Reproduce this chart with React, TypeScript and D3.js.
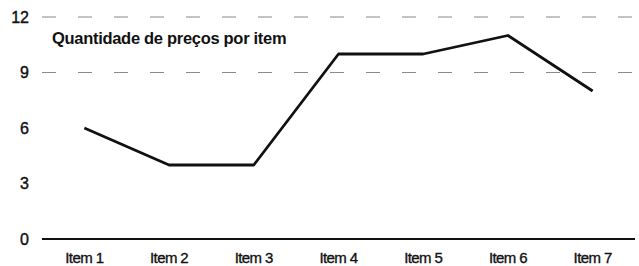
import React from "react";
import * as d3 from "d3";

const categories = ["Item 1", "Item 2", "Item 3", "Item 4", "Item 5", "Item 6", "Item 7"];
const values = [6, 4, 4, 10, 10, 11, 8];
const yTicks = [0, 3, 6, 9, 12];
const gridTicks = [9, 12];
const title = "Quantidade de preços por item";

const W = 639;
const H = 266;

export default function App() {
  const x = d3.scalePoint<string>().domain(categories).range([42, 635]).padding(0.5);
  const y = d3.scaleLinear().domain([0, 12]).range([239, 17]);

  const line = d3
    .line<number>()
    .x((d, i) => x(categories[i]) as number)
    .y((d) => y(d));

  return (
    <svg
      width={W}
      height={H}
      style={{ position: "absolute", left: 0, top: 0, background: "#fff", fontFamily: "'Liberation Sans', Arial, sans-serif" }}
    >
      {gridTicks.map((t) => (
        <line
          key={"g" + t}
          x1={42}
          x2={635}
          y1={y(t)}
          y2={y(t)}
          stroke="#8a8a8a"
          strokeWidth={1.2}
          strokeDasharray="14 22"
        />
      ))}
      {yTicks.map((t) => (
        <text
          key={"t" + t}
          x={29}
          y={y(t)}
          dy="0.36em"
          textAnchor="end"
          fontSize={16}
          stroke="#111"
          strokeWidth={0.4}
          fill="#111"
        >
          {t}
        </text>
      ))}
      <line x1={42} x2={635} y1={y(0)} y2={y(0)} stroke="#111" strokeWidth={2} />
      {categories.map((c) => (
        <text
          key={c}
          x={x(c)}
          y={263}
          textAnchor="middle"
          fontSize={15}
          letterSpacing={-0.6}
          stroke="#111"
          strokeWidth={0.35}
          fill="#111"
        >
          {c}
        </text>
      ))}
      <path d={line(values) ?? ""} fill="none" stroke="#111" strokeWidth={2.8} strokeLinejoin="round" />
      <text x={52} y={44} fontSize={16.5} fontWeight="bold" letterSpacing={-0.3} fill="#111">
        {title}
      </text>
    </svg>
  );
}
